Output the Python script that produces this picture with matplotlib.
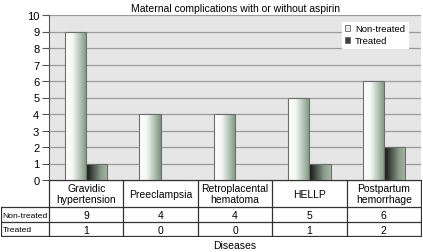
import matplotlib.pyplot as plt
import numpy as np
from matplotlib.colors import LinearSegmentedColormap
from matplotlib.patches import Patch

categories = ["Gravidic\nhypertension", "Preeclampsia", "Retroplacental\nhematoma", "HELLP", "Postpartum\nhemorrhage"]
series_names = ["Non-treated", "Treated"]
non_treated = [9, 4, 4, 5, 6]
treated = [1, 0, 0, 1, 2]

plt.rcParams['font.family'] = ['Liberation Sans', 'DejaVu Sans']

W, H = 423, 253
fig = plt.figure(figsize=(W / 100, H / 100), dpi=100)

def px_axes(l, t, r, b):
    return fig.add_axes([l / W, 1 - b / H, (r - l) / W, (b - t) / H])

# cylinder-like gradients
cmap_nt = LinearSegmentedColormap.from_list("nt", [(0, "#ffffff"), (0.35, "#f4f7f3"), (1, "#7c9680")])
cmap_t = LinearSegmentedColormap.from_list("t", [(0, "#111111"), (0.7, "#8b9e8c"), (1, "#a4b4a4")])

ax = px_axes(49, 16, 421, 181)
ax.set_facecolor("#e6e6e6")
x = np.arange(len(categories))
bw = 0.285
grad = np.linspace(0, 1, 64).reshape(1, -1)
for vals, off, cm in [(non_treated, -bw / 2, cmap_nt), (treated, bw / 2, cmap_t)]:
    bars = ax.bar(x + off, vals, bw, facecolor="none", edgecolor="#6e6e6e", linewidth=0.8, zorder=3)
    for b in bars:
        if b.get_height() <= 0:
            continue
        x0, y0 = b.get_x(), b.get_y()
        im = ax.imshow(grad, cmap=cm, aspect="auto", zorder=2,
                       extent=[x0, x0 + b.get_width(), y0, y0 + b.get_height()])
        im.set_clip_path(b)

ax.set_xlim(-0.5, len(categories) - 0.5)
ax.set_ylim(0, 10)
ax.set_yticks(range(0, 11))
ax.yaxis.grid(True, color="#9a9a9a", linewidth=0.9)
ax.set_axisbelow(True)
ax.set_xticks([])
for s in ["top", "right"]:
    ax.spines[s].set_visible(False)
ax.spines["left"].set_color("#555555")
ax.spines["bottom"].set_color("#333333")
ax.tick_params(axis="y", length=5, color="#555555", labelsize=8, pad=2)
ax.set_title("Maternal complications with or without aspirin", fontsize=7.5, pad=3)

# legend
handles = [Patch(facecolor="#e8ece8", edgecolor="#666666", linewidth=0.6),
           Patch(facecolor="#3a403a", edgecolor="#666666", linewidth=0.6)]
leg = ax.legend(handles, series_names, loc="upper right", bbox_to_anchor=(0.965, 0.96),
                fontsize=6.8, frameon=True, fancybox=False, edgecolor="white",
                framealpha=1, handlelength=0.6, handleheight=0.6, handletextpad=0.5,
                borderpad=0.3, labelspacing=0.3, borderaxespad=0)

# data table
tax = px_axes(1, 181, 422, 238)
tax.set_xlim(1, 422)
tax.set_ylim(238, 181)
tax.axis("off")
col_l, col_w = 49, 74.4
rows = [181, 208, 223, 237]
lc = "#333333"
lw = 0.9
tax.plot([col_l, col_l + 5 * col_w], [rows[0]] * 2, color=lc, lw=lw)
for r in rows[1:]:
    tax.plot([1, col_l + 5 * col_w], [r] * 2, color=lc, lw=lw)
tax.plot([1, 1], [rows[1], rows[3]], color=lc, lw=lw)
for i in range(6):
    tax.plot([col_l + i * col_w] * 2, [rows[0], rows[3]], color=lc, lw=lw)
for i, c in enumerate(categories):
    cx = col_l + (i + 0.5) * col_w
    tax.text(cx, (rows[0] + rows[1]) / 2, c, ha="center", va="center", fontsize=7.5, linespacing=1.05)
    tax.text(cx, (rows[1] + rows[2]) / 2 + 0.5, str(non_treated[i]), ha="center", va="center", fontsize=7.5)
    tax.text(cx, (rows[2] + rows[3]) / 2 + 0.5, str(treated[i]), ha="center", va="center", fontsize=7.5)
for j, name in enumerate(series_names):
    tax.text(2.5, (rows[j + 1] + rows[j + 2]) / 2 + 0.5, name, ha="left", va="center", fontsize=6.1)

fig.text(235 / W, 1 - 246 / H, "Diseases", ha="center", va="center", fontsize=7.5)

fig.savefig("out.png", dpi=100)
